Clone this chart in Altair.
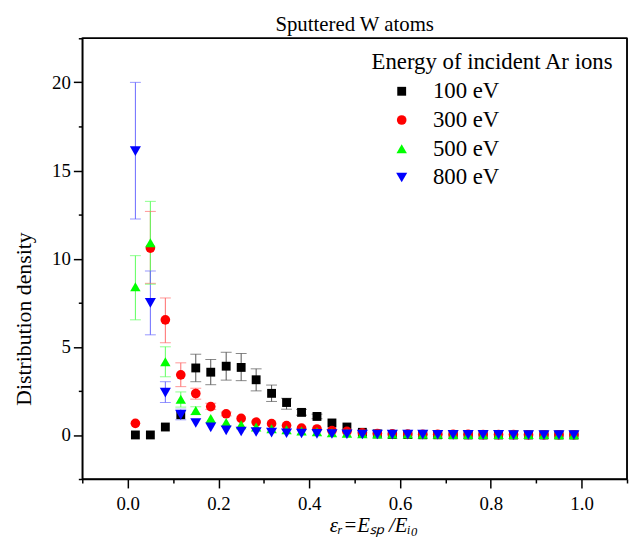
import altair as alt
import pandas as pd

# bin centres of the energy fraction axis
x_vals = [0.017, 0.05, 0.083, 0.117, 0.15, 0.183, 0.217, 0.25, 0.283, 0.317,
          0.35, 0.383, 0.417, 0.45, 0.483, 0.517, 0.55, 0.583, 0.617, 0.65,
          0.683, 0.717, 0.75, 0.783, 0.817, 0.85, 0.883, 0.917, 0.95, 0.983]

series_names = ["100 eV", "300 eV", "500 eV", "800 eV"]
series_colors = ["#000000", "#ff0000", "#00ff00", "#0000ff"]
errbar_colors = ["#555555", "#ff6a6a", "#5cff5c", "#6a6aff"]
series_shapes = ["square", "circle", "triangle-up", "triangle-down"]
series_sizes = [80, 125, 160, 160]

y_100 = [0.0, 0.0, 0.45, 1.15, 3.8, 3.56, 3.9, 3.83, 3.13, 2.36, 1.84, 1.28, 1.05, 0.68, 0.45,
         0.15, 0.06, 0.03, 0.02, 0.01, 0.01, 0.01, 0.0, 0.0, 0.0, 0.0, 0.0, 0.0, 0.0, 0.0]
y_300 = [0.66, 10.6, 6.53, 3.41, 2.35, 1.61, 1.2, 0.94, 0.73, 0.64, 0.53, 0.39, 0.34, 0.25, 0.2,
         0.12, 0.08, 0.06, 0.05, 0.04, 0.04, 0.03, 0.03, 0.02, 0.02, 0.02, 0.01, 0.01, 0.01, 0.01]
y_500 = [8.4, 10.9, 4.15, 2.03, 1.39, 0.94, 0.71, 0.58, 0.45, 0.35, 0.3, 0.22, 0.18, 0.12, 0.09,
         0.07, 0.06, 0.05, 0.05, 0.04, 0.04, 0.03, 0.03, 0.03, 0.02, 0.02, 0.02, 0.02, 0.01, 0.01]
y_800 = [16.1, 7.49, 2.4, 1.14, 0.68, 0.43, 0.26, 0.2, 0.17, 0.13, 0.1, 0.08, 0.06, 0.05, 0.04,
         0.03, 0.03, 0.02, 0.02, 0.02, 0.01, 0.01, 0.01, 0.01, 0.01, 0.0, 0.0, 0.0, 0.0, 0.0]

# error bars: bin index, lower end, upper end
err_100_idx = [4, 5, 6, 7, 8, 9, 10, 11, 12]
err_100_lo = [3.02, 2.85, 3.11, 3.08, 2.5, 1.9, 1.46, 1.12, 0.92]
err_100_hi = [4.58, 4.28, 4.69, 4.62, 3.75, 2.83, 2.08, 1.45, 1.18]
err_300_idx = [1, 2, 3, 4, 5, 6]
err_300_lo = [8.6, 5.23, 2.74, 2.03, 1.45, 1.08]
err_300_hi = [12.68, 7.77, 4.09, 2.65, 1.8, 1.3]
err_500_idx = [0, 1, 2, 3, 4]
err_500_lo = [6.53, 8.55, 3.3, 1.58, 1.15]
err_500_hi = [10.17, 13.25, 5.0, 2.44, 1.6]
err_800_idx = [0, 1, 2, 3]
err_800_lo = [12.25, 5.68, 1.84, 0.86]
err_800_hi = [20.0, 9.3, 3.02, 1.46]

x_domain = [-0.1, 1.1]
y_domain = [-2.5, 22.5]
x_ticks = [-0.1, 0.0, 0.1, 0.2, 0.3, 0.4, 0.5, 0.6, 0.7, 0.8, 0.9, 1.0, 1.1]
y_ticks = [-2.5, 0, 2.5, 5, 7.5, 10, 12.5, 15, 17.5, 20, 22.5]

rows = []
for name, ys in zip(series_names, [y_100, y_300, y_500, y_800]):
    for xv, yv in zip(x_vals, ys):
        rows.append({"series": name, "x": xv, "y": yv})
points_df = pd.DataFrame(rows)

err_rows = []
for name, ecol, idx, lo, hi in [
    ("100 eV", errbar_colors[0], err_100_idx, err_100_lo, err_100_hi),
    ("300 eV", errbar_colors[1], err_300_idx, err_300_lo, err_300_hi),
    ("500 eV", errbar_colors[2], err_500_idx, err_500_lo, err_500_hi),
    ("800 eV", errbar_colors[3], err_800_idx, err_800_lo, err_800_hi),
]:
    for i, l, h in zip(idx, lo, hi):
        err_rows.append({"series": name, "ecolor": ecol, "x": x_vals[i], "lo": l, "hi": h})
err_df = pd.DataFrame(err_rows)

frame_df = pd.DataFrame({"x0": [x_domain[0]], "x1": [x_domain[1]],
                         "y0": [y_domain[0]], "y1": [y_domain[1]]})

FONT = "Liberation Serif"
LEG_TITLE = "Energy of incident Ar ions"

x_scale = alt.Scale(domain=x_domain, nice=False, zero=False)
y_scale = alt.Scale(domain=y_domain, nice=False, zero=False)
color_scale = alt.Scale(domain=series_names, range=series_colors)

x_axis = alt.Axis(
    values=x_ticks,
    labelExpr="round(datum.value*10) % 2 != 0 ? '' : format(datum.value, '.1f')",
    tickSize={"condition": {"test": "round(datum.value*10) % 2 != 0", "value": 4}, "value": 9},
    title="εᵣ=Eₛₚ /Eᵢ₀",
    titleFontStyle="italic",
    titleFontSize=21,
    titleX=294,
    titleY=47,
    titleAlign="center",
    titleBaseline="middle",
    labelPadding=7,
    grid=False,
)
y_axis = alt.Axis(
    values=y_ticks,
    labelExpr="datum.value % 5 == 0 ? format(datum.value, 'd') : ''",
    tickSize={"condition": {"test": "datum.value % 5 != 0", "value": 4}, "value": 9},
    title="Distribution density",
    titleFontSize=22,
    titleAngle=-90,
    titleX=-59,
    titleY=283,
    titleAlign="center",
    titleBaseline="middle",
    labelPadding=3,
    grid=False,
)

bars = alt.Chart(err_df).mark_rule(strokeWidth=1).encode(
    x=alt.X("x:Q", scale=x_scale, axis=x_axis),
    y=alt.Y("lo:Q", scale=y_scale, axis=y_axis),
    y2="hi:Q",
    stroke=alt.Stroke("ecolor:N", scale=None),
)
caps_hi = alt.Chart(err_df).mark_tick(orient="horizontal", size=11, thickness=1).encode(
    x=alt.X("x:Q", scale=x_scale),
    y=alt.Y("hi:Q", scale=y_scale),
    fill=alt.Fill("ecolor:N", scale=None),
)
caps_lo = alt.Chart(err_df).mark_tick(orient="horizontal", size=11, thickness=1).encode(
    x=alt.X("x:Q", scale=x_scale),
    y=alt.Y("lo:Q", scale=y_scale),
    fill=alt.Fill("ecolor:N", scale=None),
)

points = alt.Chart(points_df).mark_point(filled=True, opacity=1, strokeWidth=0).encode(
    x=alt.X("x:Q", scale=x_scale),
    y=alt.Y("y:Q", scale=y_scale),
    color=alt.Color(
        "series:N", scale=color_scale, title=LEG_TITLE,
        legend=alt.Legend(
            orient="none", legendX=292, legendY=13, padding=0,
            titleFont=FONT, titleFontSize=23, titleFontWeight="normal", titleColor="black",
            titlePadding=6, titleLimit=400,
            labelFont=FONT, labelFontSize=23, labelColor="black",
            symbolOffset=19, labelOffset=20, rowPadding=5,
            symbolStrokeWidth=0, symbolOpacity=1,
        ),
    ),
    shape=alt.Shape("series:N", scale=alt.Scale(domain=series_names, range=series_shapes), title=LEG_TITLE),
    size=alt.Size("series:N", scale=alt.Scale(domain=series_names, range=series_sizes), title=LEG_TITLE),
)

# frame: top and right edges of the plotting box, taken from the scale domains (drawn last)
frame_top = alt.Chart(frame_df).mark_rule(color="black", strokeWidth=1.5).encode(
    x=alt.X("x0:Q", scale=x_scale),
    x2="x1:Q",
    y=alt.Y("y1:Q", scale=y_scale),
)
frame_right = alt.Chart(frame_df).mark_rule(color="black", strokeWidth=1.5).encode(
    x=alt.X("x1:Q", scale=x_scale),
    y=alt.Y("y0:Q", scale=y_scale),
    y2="y1:Q",
)

chart = alt.layer(bars, caps_lo, caps_hi, points, frame_top, frame_right).properties(
    width=550,
    height=445,
    autosize="none",
    padding={"left": 75, "top": 28, "right": 2, "bottom": 60},
    title=alt.TitleParams(
        "Sputtered W atoms", font=FONT, fontSize=21, fontWeight="normal",
        color="black", anchor="middle", offset=3,
    ),
).configure_view(
    stroke="black", strokeWidth=1.5,
).configure_axis(
    labelFont=FONT, labelFontSize=19, labelColor="black",
    titleFont=FONT, titleColor="black", titleFontWeight="normal",
    domainColor="black", domainWidth=1.5,
    tickColor="black", tickWidth=1.5,
)

chart.save("out.html", embed_options={"renderer": "svg", "actions": False})
